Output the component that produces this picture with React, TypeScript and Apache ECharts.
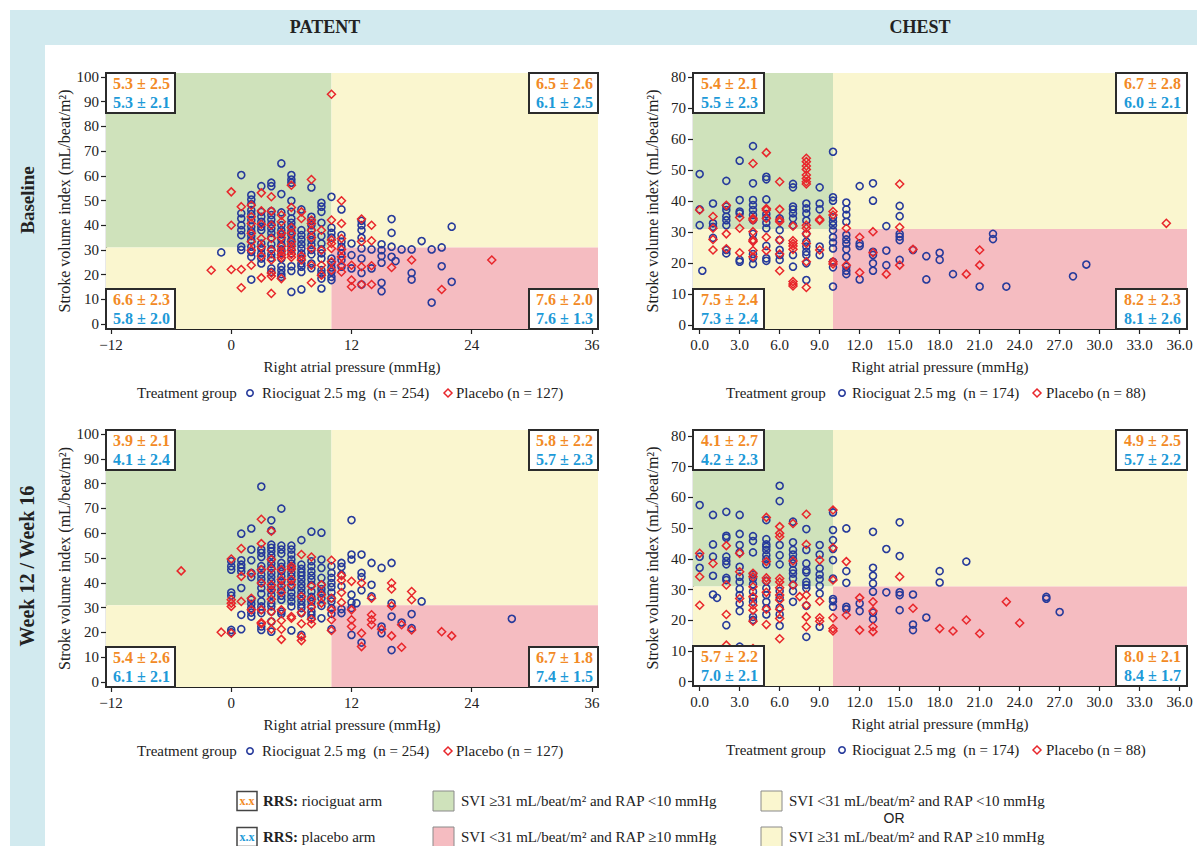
import React, { useEffect, useRef } from "react";
import * as echarts from "echarts";

// ---------------- data ----------------
const columnTitles = ["PATENT", "CHEST"];
const rowTitles = ["Baseline", "Week 12 / Week 16"];
const xAxisTitle = "Right atrial pressure (mmHg)";
const yAxisTitle = "Stroke volume index (mL/beat/m²)";
const SVI_CUT = 31;
const RAP_CUT = 10;

const patentXTicks = [-12, 0, 12, 24, 36];
const chestXTicks = [0, 3, 6, 9, 12, 15, 18, 21, 24, 27, 30, 33, 36];
const patentYTicks = [0, 10, 20, 30, 40, 50, 60, 70, 80, 90, 100];
const chestYTicks = [0, 10, 20, 30, 40, 50, 60, 70, 80];

const patentRioLabel = "Riociguat 2.5 mg  (n = 254)";
const patentPlaLabel = "Placebo (n = 127)";
const chestRioLabel = "Riociguat 2.5 mg  (n = 174)";
const chestPlaLabel = "Placebo (n = 88)";

// RRS boxes: [top-left, top-right, bottom-left, bottom-right], each [riociguat arm, placebo arm]
const rrsPatentBaseline = [["5.3 ± 2.5", "5.3 ± 2.1"], ["6.5 ± 2.6", "6.1 ± 2.5"], ["6.6 ± 2.3", "5.8 ± 2.0"], ["7.6 ± 2.0", "7.6 ± 1.3"]];
const rrsChestBaseline = [["5.4 ± 2.1", "5.5 ± 2.3"], ["6.7 ± 2.8", "6.0 ± 2.1"], ["7.5 ± 2.4", "7.3 ± 2.4"], ["8.2 ± 2.3", "8.1 ± 2.6"]];
const rrsPatentWeek = [["3.9 ± 2.1", "4.1 ± 2.4"], ["5.8 ± 2.2", "5.7 ± 2.3"], ["5.4 ± 2.6", "6.1 ± 2.1"], ["6.7 ± 1.8", "7.4 ± 1.5"]];
const rrsChestWeek = [["4.1 ± 2.7", "4.2 ± 2.3"], ["4.9 ± 2.5", "5.7 ± 2.2"], ["5.7 ± 2.2", "7.0 ± 2.1"], ["8.0 ± 2.1", "8.4 ± 1.7"]];

const patentBaselineRio = [
  [-1, 29],
  [1, 60.3], [1, 44.8], [1, 42.7], [1, 40], [1, 38], [1, 36], [1, 31.3], [1, 30],
  [2, 52.2], [2, 50.4], [2, 48.5], [2, 46.1], [2, 44.5], [2, 42.1], [2, 39.4], [2, 37.6], [2, 35.6], [2, 34], [2, 31.3], [2, 29.2], [2, 27.2], [2, 18],
  [3, 55.8], [3, 45.4], [3, 43.4], [3, 41.4], [3, 39.4], [3, 38], [3, 32.6], [3, 30.6], [3, 28.6], [3, 26.5], [3, 24.5],
  [4, 57.2], [4, 55.8], [4, 45.7], [4, 44.1], [4, 42.3], [4, 40.4], [4, 38.7], [4, 36.9], [4, 35], [4, 32.3], [4, 30.3], [4, 28.3], [4, 26.8], [4, 22.5], [4, 21.1],
  [5, 65], [5, 52.6], [5, 45.2], [5, 40], [5, 38], [5, 36.3], [5, 34.2], [5, 32.2], [5, 30.2], [5, 28.6], [5, 26.5], [5, 23.4], [5, 21.8], [5, 20.2], [5, 19.1],
  [6, 60.3], [6, 58.5], [6, 57.2], [6, 49.9], [6, 45.4], [6, 42.7], [6, 41], [6, 39.4], [6, 37.6], [6, 36], [6, 34], [6, 32.3], [6, 30.3], [6, 28.6], [6, 23.4], [6, 21.5], [6, 13],
  [7, 46.4], [7, 38], [7, 36], [7, 34.2], [7, 32.3], [7, 30.6], [7, 28.6], [7, 26.5], [7, 24.5], [7, 23.2], [7, 21.1], [7, 14],
  [8, 55.3], [8, 43.4], [8, 41.8], [8, 40], [8, 38], [8, 36], [8, 34], [8, 32], [8, 30], [8, 28.2], [8, 24.5], [8, 22.6],
  [9, 49.1], [9, 47.5], [9, 45.4], [9, 41], [9, 35.6], [9, 32.6], [9, 30.2], [9, 28.6], [9, 26.5], [9, 21.8], [9, 20.5], [9, 18.4], [9, 14.4],
  [10, 51.5], [10, 39], [10, 36.9], [10, 35], [10, 26.5], [10, 24.8], [10, 22.9], [10, 21.1], [10, 19.1], [10, 17.8],
  [11, 46.4], [11, 36], [11, 33.3], [11, 31.3], [11, 28.6], [11, 25.9], [11, 23.2],
  [12, 32.6], [12, 27.9], [12, 22.5],
  [13, 41.8], [13, 40], [13, 38], [13, 34.9], [13, 30.6], [13, 26.5], [13, 20.7], [13, 16],
  [14, 30.2], [14, 22.5],
  [15, 32.3], [15, 29.9], [15, 27.5], [15, 24.8], [15, 16.7], [15, 13.3],
  [16, 42.5], [16, 36.9], [16, 31.3], [16, 27.2], [16.4, 25.5],
  [17, 30.2], [18, 30.2], [18, 20.7], [18, 18], [19, 33.6], [20, 30.2], [20, 8.7],
  [21, 31], [21, 23.4], [22, 39.4], [22, 17.1],
];
const patentBaselinePla = [
  [-2, 21.8], [0, 53.5], [0, 40], [0, 22.1], [1, 47.5], [1, 22.1], [1, 14.7],
  [2, 48.1], [2, 43.4], [2, 40.7], [2, 36.7], [2, 33.3], [2, 29.9], [2, 23.8],
  [3, 53.1], [3, 45.8], [3, 40.4], [3, 34.6], [3, 31.3], [3, 27.5], [3, 18.7],
  [4, 51.5], [4, 45.7], [4, 40], [4, 34.6], [4, 29.9], [4, 25.9], [4, 20.7], [4, 19.4], [4, 12.4],
  [5, 44.1], [5, 41.4], [5, 36.9], [5, 35], [5, 31.5], [5, 29.5], [5, 27.9], [5, 26.8], [5, 18.4],
  [6, 56.2], [6, 47.2], [6, 39.1], [6, 36.7], [6, 33.3], [6, 31.5], [6, 29.9], [6, 28.2], [6, 27],
  [7, 45.4], [7, 42.7], [7, 27.5], [7, 25.9],
  [8, 58.5], [8, 42.1], [8, 40.7], [8, 38], [8, 35], [8, 30.6], [8, 23.8], [8, 16.7],
  [9, 38], [9, 29.9], [9, 23.8], [9, 19.8],
  [10, 93], [10, 42.1], [10, 34], [10, 32.6], [10, 30.6], [10, 25.2], [10, 21.8],
  [11, 49.9], [11, 40.7], [11, 34.6], [11, 30.2], [11, 27.2], [11, 23.8], [11, 21.1],
  [12, 23.8], [12, 17.8], [12, 15.1],
  [13, 42.5], [13, 33.4], [13, 23.2], [13, 16],
  [14, 40], [14, 33.7], [14, 23.6], [14, 16],
  [16, 22.9], [18, 25.9], [21, 14], [26, 25.9],
];
const chestBaselineRio = [
  [0, 48.7], [0, 37.3], [0, 32.2], [0.2, 17.5],
  [1, 39.2], [1, 32.8], [1, 31.7], [1, 28.1],
  [2, 46.5], [2, 38.2], [2, 37.1], [2, 35], [2, 33.8], [2, 32.2], [2, 24.2], [2, 23.1],
  [3, 53], [3, 40.3], [3, 36.6], [3, 36], [3, 21], [3, 20.4],
  [4, 57.7], [4, 45.7], [4, 40.3], [4, 38.7], [4, 37.1], [4, 35.5], [4, 33.9], [4, 29.4], [4, 27.4], [4, 22.9], [4, 21.5], [4, 19.7],
  [5, 47.8], [5, 47], [5, 40.5], [5, 35.8], [5, 34.6], [5, 33], [5, 31.2], [5, 25.5], [5, 21.5], [5, 20.7],
  [6, 34.4], [6, 30.6], [6, 27.4], [6, 24.2], [6, 22.6], [6, 21],
  [7, 45.5], [7, 44.4], [7, 38.2], [7, 37.3], [7, 36], [7, 34.4], [7, 32.2], [7, 22.6], [7, 18.8],
  [8, 39.2], [8, 37.6], [8, 36], [8, 33.7], [8, 29.4], [8, 26.9], [8, 25.3], [8, 23.6], [8, 22.6], [8, 19.9], [8, 14.5],
  [9, 44.4], [9, 39.2], [9, 37.3], [9, 25.3], [9, 22.6],
  [10, 55.9], [10, 41.2], [10, 40.1], [10, 34.7], [10, 33.3], [10, 32.2], [10, 30.6], [10, 28.3], [10, 26.6], [10, 24.7], [10, 20.4], [10, 18.6], [10, 12.4],
  [11, 39.5], [11, 37.3], [11, 35.5], [11, 33.3], [11, 29], [11, 27.6], [11, 26.3], [11, 24.4], [11, 22], [11, 18.8], [11, 17.5], [11, 16.4],
  [12, 44.8], [12, 26.3], [12, 25.5], [12, 14.7],
  [13, 45.7], [13, 40.1], [13, 23.6], [13, 22.6], [13, 19.9], [13, 17.5],
  [14, 31.9], [14, 24], [14, 19.3],
  [15, 38.4], [15, 35.1], [15, 29.4], [15, 28.5], [15, 27.4], [15, 21],
  [16, 24.2], [17, 22.2], [17, 14.7], [18, 23.3], [18, 21], [19, 16.4], [21, 12.4],
  [22, 29.4], [22, 27.7], [23, 12.4], [28, 15.7], [29, 19.5],
];
const chestBaselinePla = [
  [0, 37.1], [1, 35], [1, 31.2], [1, 27.6], [1, 24.2],
  [2, 38.6], [2, 29.4], [2, 24.6],
  [3, 34.7], [3, 31.2], [3, 23.3],
  [4, 52.1], [4, 34.4], [4, 33.9], [4, 30.1], [4, 27.4], [4, 26.9], [4, 24], [4, 22],
  [5, 55.6], [5, 37.6], [5, 37.1], [5, 34.4], [5, 28.3], [5, 24],
  [6, 46.2], [6, 37.3], [6, 33.9], [6, 33.3], [6, 27.4], [6, 22.9], [6, 17.5],
  [7, 31.9], [7, 27.2], [7, 26.3], [7, 25.5], [7, 24.4], [7, 14], [7, 13.2], [7, 12.6],
  [8, 53.8], [8, 52.7], [8, 51.3], [8, 50.2], [8, 48.4], [8, 47.3], [8, 46.2], [8, 45.5], [8, 32.2], [8, 31.2], [8, 29.4], [8, 26.3], [8, 20.4], [8, 12.1],
  [9, 34.1], [9, 33.7], [9, 24.2],
  [10, 36.6], [10, 35.5], [10, 20.4], [10, 19.7],
  [11, 31.2], [11, 19.3], [12, 28.3], [12, 16.9], [13, 30.1], [13, 23.3], [14, 16.4],
  [15, 45.5], [15, 31.5], [15, 19.3],
  [16, 24.4], [20, 16.4], [21, 24.2], [21, 19.3], [35, 32.8],
];
const patentWeekRio = [
  [0, 48.7], [0, 46.7], [0, 45.3], [0, 36.1], [0, 34.8], [0, 21], [0, 20.1],
  [1, 59.8], [1, 49.1], [1, 47.3], [1, 46], [1, 44.6], [1, 37.9], [1, 27.1], [1, 21.3],
  [2, 61.9], [2, 53.4], [2, 49.1], [2, 44], [2, 42.3], [2, 33.2], [2, 31.5], [2, 29.8], [2, 28], [2, 26.4],
  [3, 78.8], [3, 53.4], [3, 52.1], [3, 50.4], [3, 46.7], [3, 45.3], [3, 43.3], [3, 41.5], [3, 39.9], [3, 37.9], [3, 35.6], [3, 32.5], [3, 30.5], [3, 29.1], [3, 27.8], [3, 22.4], [3, 21],
  [4, 65.2], [4, 61.1], [4, 55.4], [4, 54.1], [4, 52.7], [4, 51], [4, 49.4], [4, 47.7], [4, 46], [4, 44], [4, 42.3], [4, 40.6], [4, 38.6], [4, 37], [4, 35.2], [4, 31.8], [4, 30.5], [4, 28.4], [4, 24.4], [4, 20.3],
  [5, 69.9], [5, 55], [5, 53.4], [5, 51.8], [5, 48], [5, 46.4], [5, 44.6], [5, 42.6], [5, 40.6], [5, 38.8], [5, 37], [5, 34.8], [5, 33.2], [5, 28.4], [5, 27.5],
  [6, 55], [6, 53.4], [6, 51.4], [6, 49.4], [6, 47.7], [6, 46], [6, 44.2], [6, 42.6], [6, 40.6], [6, 38.3], [6, 36.1], [6, 34.3], [6, 32.5], [6, 30.5], [6, 20.8],
  [7, 57.2], [7, 47.3], [7, 45.6], [7, 44.2], [7, 42.9], [7, 41.3], [7, 39.5], [7, 37.9], [7, 36.1], [7, 34.5], [7, 32.8], [7, 31.1], [7, 29.8], [7, 27.8], [7, 19],
  [8, 60.6], [8, 48.7], [8, 46.7], [8, 44.6], [8, 42.9], [8, 41.3], [8, 39.2], [8, 36.5], [8, 34.3], [8, 32.5], [8, 30.5], [8, 28.4], [8, 27.1], [8, 25.7],
  [9, 60.2], [9, 49.4], [9, 46], [9, 42], [9, 39.2], [9, 37.5], [9, 35.9], [9, 33.8], [9, 30.7], [9, 25.7],
  [10, 46.7], [10, 44], [10, 42], [10, 39.9], [10, 38.3], [10, 36.1], [10, 33.8], [10, 32.5], [10, 29.8], [10, 27.5], [10, 21.3],
  [11, 48], [11, 46.4], [11, 43.3], [11, 38.6], [11, 29.4], [11, 27.8],
  [12, 65.3], [12, 51.4], [12, 49.4], [12, 35.2], [12, 32.1], [12, 29.8], [12, 19], [12.5, 31.8],
  [13, 51.4], [13, 44], [13, 42.3], [13, 37], [13, 15.9],
  [14, 48], [14, 39.2], [14, 34.5],
  [15, 46], [15, 22.4], [15, 19.7],
  [16, 48], [16, 31.8], [16, 26.4], [16, 12.9],
  [17, 24], [18, 27.4], [18, 21.7], [19, 32.5], [28, 25.5],
];
const patentWeekPla = [
  [-5, 44.8], [-1, 20.1],
  [0, 49.6], [0, 33.2], [0, 31.8], [0, 30.5], [0, 19.7],
  [1, 53.8], [1, 42.6], [1, 32.5],
  [2, 43.7], [2, 33.8], [2, 29.1],
  [3, 65.6], [3, 55.8], [3, 45.3], [3, 39.9], [3, 29.1], [3, 24], [3, 23.5],
  [4, 60.8], [4, 49.4], [4, 45.6], [4, 39.2], [4, 37.2], [4, 33.4], [4, 28.4], [4, 24.4], [4, 21.3],
  [5, 45.3], [5, 41.3], [5, 38.8], [5, 36.1], [5, 29.1], [5, 24.8], [5, 21.3], [5, 17.2],
  [6, 46.7], [6, 45.6], [6, 41.3], [6, 39.2], [6, 26.4], [6, 25.7],
  [7, 51.4], [7, 34.5], [7, 28], [7, 23.5], [7, 18.3], [7, 16.7],
  [8, 50.4], [8, 38.6], [8, 33.4], [8, 30.2], [8, 25.3], [8, 23.5],
  [9, 39.2], [9, 35.2], [9, 31.8],
  [10, 49.1], [10, 33.8], [10, 29.1], [10, 25.1], [10, 20.8],
  [11, 42.9], [11, 41], [11, 36.1], [11, 32.1],
  [12, 40.6], [12, 29.1], [12, 25.1], [12, 22.4],
  [13, 39.9], [13, 19.7], [13, 14.3],
  [14, 33.8], [14, 27.1], [14, 25.1], [14, 23.1],
  [15, 21.3],
  [16, 39.9], [16, 37.5], [16, 30.7], [16, 18.6],
  [17, 23.1], [17, 14],
  [18, 36.5], [18, 33.2], [18, 21],
  [21, 20.3], [22, 18.6],
];
const chestWeekRio = [
  [0, 57.5], [0, 40.7], [0, 37.1],
  [1, 54.3], [1, 44.7], [1, 40.7], [1, 34.5], [1, 28.4], [1.3, 27.3],
  [2, 55.3], [2, 47.5], [2, 46.9], [2, 40.7], [2, 39.3], [2, 38.2], [2, 33.8], [2, 33.1], [2, 18.4],
  [3, 54.3], [3, 48.1], [3, 44.5], [3, 42.1], [3, 37.4], [3, 34.2], [3, 32.5], [3, 30.2], [3, 28.2], [3, 25.5], [3, 23], [3, 11.4],
  [4, 47.4], [4, 45.8], [4, 42.1], [4, 34.9], [4, 33.6], [4, 31.7], [4, 29.3], [4, 27.3], [4, 26], [4, 21.1], [4, 20.1],
  [5, 52.6], [5, 46.4], [5, 44.7], [5, 43.9], [5, 42.9], [5, 41.2], [5, 39.9], [5, 38.2], [5, 32.8], [5, 30.4], [5, 28.2], [5, 26], [5, 23.9], [5, 21.9],
  [6, 63.8], [6, 58.8], [6, 44.5], [6, 41.2], [6, 38.2], [6, 29.5], [6, 27.3], [6, 24.1], [6, 21.9], [6, 18.2],
  [7, 52.1], [7, 45.4], [7, 42.9], [7, 41.4], [7, 39.9], [7, 38.5], [7, 36.3], [7, 35.2], [7, 33.6], [7, 31.5], [7, 29.5], [7, 26],
  [8, 49.7], [8, 42.9], [8, 38.5], [8, 36.3], [8, 35.6], [8, 32.5], [8, 31.5], [8, 30.4], [8, 24.7], [8, 14.6],
  [9, 44.5], [9, 41.4], [9, 36.9], [9, 34.9], [9, 33.4], [9, 31.2], [9, 28.7], [9, 17.9],
  [10, 55.1], [10, 49.4], [10, 46.1], [10, 43.2], [10, 39.6], [10, 33.6], [10, 26.9], [10, 26.2], [10, 24.4],
  [11, 49.9], [11, 36], [11, 32.2], [11, 24.4], [11, 23.6],
  [12, 25.5], [12, 23],
  [13, 48.8], [13, 37.1], [13, 34.5], [13, 32], [13, 29.3], [13, 22.5], [13, 20.4],
  [14, 43.2], [14, 29.1],
  [15, 51.9], [15, 40.9], [15, 29.1], [15, 28.2], [15, 23.3],
  [16, 28.4], [16, 18.6], [16, 16.8], [17, 20.9], [18, 36], [18, 32.3], [20, 39.1],
  [26, 27.6], [26, 27], [27, 22.7],
];
const chestWeekPla = [
  [0, 41.8], [0, 34.2], [0, 24.9], [1, 38.5],
  [2, 44.3], [2, 31.5], [2, 21.9], [2, 11.9],
  [3, 41.8], [3, 35.8], [3, 27.1],
  [4, 35.3], [4, 34.2], [4, 30.9], [4, 27.7], [4, 24.9], [4, 23.3], [4, 19.7], [4, 10.8],
  [5, 53.5], [5, 39.1], [5, 33.8], [5, 32.8], [5, 29.1], [5, 23.6], [5, 18.6],
  [6, 50.5], [6, 48.3], [6, 47.2], [6, 33.6], [6, 32.5], [6, 30.6], [6, 28.2], [6, 26.6], [6, 23.6], [6, 20.6], [6, 14],
  [7, 51.5], [7, 39.3], [7, 31.5], [7.5, 27.7],
  [8, 54.5], [8, 44.7], [8, 28.2], [8, 24.9], [8, 21.1], [8, 17.9],
  [9, 39.6], [9, 26.2], [9, 20.8], [9, 19.7],
  [10, 55.9], [10, 43.6], [10, 33.1], [10, 20.8], [10, 17.3], [10, 16.5],
  [11, 39.1], [11, 21.7], [12, 27.3], [12, 16.8],
  [13, 26], [13, 23], [13, 17.9], [13, 16.3],
  [15, 34.2], [16, 23.9], [18, 17.3], [19, 16.5], [20, 20.1], [21, 15.7], [23, 26], [24, 19.1],
];

// ---------------- styles ----------------
const SERIF = "'Liberation Serif', 'Times New Roman', serif";
const SANS = "'Liberation Sans', Arial, sans-serif";
const GREEN = "#cfe2bb";
const YELLOW = "#faf6cf";
const PINK = "#f5bcc1";
const BAND = "#d2eaef";
const BLUE_PT = "#263a9b";
const RED_PT = "#e8262b";
const ORANGE_TXT = "#f28a25";
const BLUE_TXT = "#1d9ad8";
const INK = "#222";

const panels = [
  { grid: { left: 106, top: 73, width: 492, height: 256 }, xMin: -12.5, xMax: 36.6, yMin: -2, yMax: 101.6, xTicks: patentXTicks, yTicks: patentYTicks, dec: 0, rio: patentBaselineRio, pla: patentBaselinePla, rrs: rrsPatentBaseline, rioLabel: patentRioLabel, plaLabel: patentPlaLabel, boxW: 69, leg: [137, 250, 262, 448, 456] },
  { grid: { left: 693, top: 73, width: 494, height: 256 }, xMin: -0.5, xMax: 36.55, yMin: -1.3, yMax: 81.3, xTicks: chestXTicks, yTicks: chestYTicks, dec: 1, rio: chestBaselineRio, pla: chestBaselinePla, rrs: rrsChestBaseline, rioLabel: chestRioLabel, plaLabel: chestPlaLabel, boxW: 71, leg: [726, 842, 852, 1037, 1046] },
  { grid: { left: 106, top: 430, width: 492, height: 257 }, xMin: -12.5, xMax: 36.6, yMin: -2, yMax: 101.6, xTicks: patentXTicks, yTicks: patentYTicks, dec: 0, rio: patentWeekRio, pla: patentWeekPla, rrs: rrsPatentWeek, rioLabel: patentRioLabel, plaLabel: patentPlaLabel, boxW: 69, leg: [137, 250, 262, 448, 456] },
  { grid: { left: 693, top: 430, width: 494, height: 256 }, xMin: -0.5, xMax: 36.55, yMin: -1.4, yMax: 81.95, xTicks: chestXTicks, yTicks: chestYTicks, dec: 1, rio: chestWeekRio, pla: chestWeekPla, rrs: rrsChestWeek, rioLabel: chestRioLabel, plaLabel: chestPlaLabel, boxW: 71, leg: [726, 842, 852, 1037, 1046] },
];

function txt(x: number, y: number, text: string, opts: any = {}) {
  const align = opts.align || "left";
  const valign = opts.valign || "middle";
  return {
    type: "text",
    x,
    y,
    z: 100,
    rotation: opts.rotation || 0,
    silent: true,
    style: {
      text,
      fill: opts.fill || INK,
      fontSize: opts.size || 15,
      fontFamily: opts.family || SERIF,
      fontWeight: opts.weight || "normal",
      align,
      verticalAlign: valign,
      textAlign: align,
      textVerticalAlign: valign,
      rich: opts.rich,
    },
  };
}

function buildOption() {
  const grid: any[] = [];
  const xAxis: any[] = [];
  const yAxis: any[] = [];
  const series: any[] = [];
  const graphic: any[] = [];

  // background bands
  graphic.push({ type: "rect", z: 0, silent: true, shape: { x: 10, y: 10, width: 1187, height: 35 }, style: { fill: BAND } });
  graphic.push({ type: "rect", z: 0, silent: true, shape: { x: 10, y: 10, width: 35, height: 836 }, style: { fill: BAND } });
  graphic.push(txt(325, 27, columnTitles[0], { align: "center", size: 18, weight: "bold" }));
  graphic.push(txt(920, 27, columnTitles[1], { align: "center", size: 18, weight: "bold" }));
  graphic.push(txt(27, 200, rowTitles[0], { align: "center", size: 19, weight: "bold", rotation: Math.PI / 2 }));
  graphic.push(txt(27, 566, rowTitles[1], { align: "center", size: 20, weight: "bold", rotation: Math.PI / 2 }));

  panels.forEach((p, i) => {
    const g = p.grid;
    grid.push({ left: g.left, top: g.top, width: g.width, height: g.height, containLabel: false });
    const axisLine = { show: true, onZero: false, lineStyle: { color: INK, width: 1.2 } };
    xAxis.push({
      gridIndex: i, type: "value", min: p.xMin, max: p.xMax,
      axisLine,
      axisTick: { show: true, customValues: p.xTicks, length: 5, lineStyle: { color: INK, width: 1.2 } },
      axisLabel: {
        customValues: p.xTicks, margin: 8, fontSize: 15, fontFamily: SERIF, color: INK,
        formatter: (v: number) => (v < 0 ? "\u2212" + Math.abs(v).toFixed(p.dec) : v.toFixed(p.dec)),
      },
      splitLine: { show: false },
      name: xAxisTitle, nameLocation: "middle", nameGap: 30,
      nameTextStyle: { fontSize: 15, fontFamily: SERIF, color: INK },
    });
    yAxis.push({
      gridIndex: i, type: "value", min: p.yMin, max: p.yMax,
      axisLine,
      axisTick: { show: true, customValues: p.yTicks, length: 5, lineStyle: { color: INK, width: 1.2 } },
      axisLabel: { customValues: p.yTicks, margin: 7, fontSize: 15, fontFamily: SERIF, color: INK },
      splitLine: { show: false },
      name: yAxisTitle, nameLocation: "middle", nameGap: 33,
      nameTextStyle: { fontSize: 16, fontFamily: SERIF, color: INK },
    });
    series.push({
      type: "scatter", xAxisIndex: i, yAxisIndex: i, data: [], silent: true, z: 1,
      markArea: {
        silent: true,
        data: [
          [{ xAxis: p.xMin, yAxis: SVI_CUT, itemStyle: { color: GREEN, opacity: 1, borderWidth: 0 } }, { xAxis: RAP_CUT, yAxis: p.yMax }],
          [{ xAxis: p.xMin, yAxis: p.yMin, itemStyle: { color: YELLOW, opacity: 1, borderWidth: 0 } }, { xAxis: RAP_CUT, yAxis: SVI_CUT }],
          [{ xAxis: RAP_CUT, yAxis: SVI_CUT, itemStyle: { color: YELLOW, opacity: 1, borderWidth: 0 } }, { xAxis: p.xMax, yAxis: p.yMax }],
          [{ xAxis: RAP_CUT, yAxis: p.yMin, itemStyle: { color: PINK, opacity: 1, borderWidth: 0 } }, { xAxis: p.xMax, yAxis: SVI_CUT }],
        ],
      },
    });
    series.push({
      type: "scatter", name: p.rioLabel, xAxisIndex: i, yAxisIndex: i, data: p.rio, z: 3, silent: true,
      symbol: "circle", symbolSize: 7,
      itemStyle: { color: "rgba(0,0,0,0)", borderColor: BLUE_PT, borderWidth: 1.6, opacity: 1 },
    });
    series.push({
      type: "scatter", name: p.plaLabel, xAxisIndex: i, yAxisIndex: i, data: p.pla, z: 4, silent: true,
      symbol: "diamond", symbolSize: 8,
      itemStyle: { color: "rgba(0,0,0,0)", borderColor: RED_PT, borderWidth: 1.5, opacity: 1 },
    });

    // RRS boxes
    const bh = 40;
    const right = g.left + g.width - p.boxW;
    const bottom = g.top + g.height - bh;
    const corners = [[g.left, g.top], [right, g.top], [g.left, bottom], [right, bottom]];
    corners.forEach(([bx, by], k) => {
      graphic.push({ type: "rect", z: 90, silent: true, shape: { x: bx, y: by, width: p.boxW, height: bh }, style: { fill: "#fff", stroke: "#2b2b2b", lineWidth: 2 } });
      graphic.push(txt(bx + p.boxW / 2 + 1, by + 10.5, p.rrs[k][0], { align: "center", size: 16, weight: "bold", fill: ORANGE_TXT }));
      graphic.push(txt(bx + p.boxW / 2 + 1, by + 29.5, p.rrs[k][1], { align: "center", size: 16, weight: "bold", fill: BLUE_TXT }));
    });

    // panel legend
    const ly = g.top + g.height + 64;
    const [tx, cx, rx, dx, px] = p.leg;
    graphic.push(txt(tx, ly, "Treatment group"));
    graphic.push({ type: "circle", z: 100, silent: true, shape: { cx, cy: ly, r: 3.2 }, style: { fill: "none", stroke: BLUE_PT, lineWidth: 1.6 } });
    graphic.push(txt(rx, ly, p.rioLabel));
    graphic.push({ type: "polygon", z: 100, silent: true, shape: { points: [[dx, ly - 4], [dx + 4, ly], [dx, ly + 4], [dx - 4, ly]] }, style: { fill: "none", stroke: RED_PT, lineWidth: 1.5 } });
    graphic.push(txt(px, ly, p.plaLabel));
  });

  // bottom legend
  const rows = [
    { y: 801, color: ORANGE_TXT, rrs: "{b|RRS:} riociguat arm", sq1: GREEN, t1: "SVI ≥31 mL/beat/m² and RAP <10 mmHg", sq2: YELLOW, t2: "SVI <31 mL/beat/m² and RAP <10 mmHg" },
    { y: 837, color: BLUE_TXT, rrs: "{b|RRS:} placebo arm", sq1: PINK, t1: "SVI <31 mL/beat/m² and RAP ≥10 mmHg", sq2: YELLOW, t2: "SVI ≥31 mL/beat/m² and RAP ≥10 mmHg" },
  ];
  rows.forEach((r) => {
    graphic.push({ type: "rect", z: 100, silent: true, shape: { x: 237, y: r.y - 9.5, width: 20, height: 19 }, style: { fill: "#fff", stroke: "#444", lineWidth: 1.5 } });
    graphic.push(txt(247, r.y, "x.x", { align: "center", size: 12, weight: "bold", fill: r.color }));
    graphic.push(txt(263, r.y, r.rrs, { rich: { b: { fontWeight: "bold", fontSize: 15, fontFamily: SERIF, fill: INK } } }));
    graphic.push({ type: "rect", z: 100, silent: true, shape: { x: 433, y: r.y - 10, width: 21, height: 20 }, style: { fill: r.sq1, stroke: "#8a8a8a", lineWidth: 1 } });
    graphic.push(txt(461, r.y, r.t1));
    graphic.push({ type: "rect", z: 100, silent: true, shape: { x: 761, y: r.y - 10, width: 21, height: 20 }, style: { fill: r.sq2, stroke: "#8a8a8a", lineWidth: 1 } });
    graphic.push(txt(789, r.y, r.t2));
  });
  graphic.push(txt(894, 818, "OR", { align: "center", size: 14, family: SANS }));

  return {
    animation: false,
    backgroundColor: "#fff",
    grid, xAxis, yAxis, series, graphic,
  };
}

export default function App() {
  const ref = useRef<HTMLDivElement>(null);
  useEffect(() => {
    if (!ref.current) return;
    const chart = echarts.init(ref.current, undefined, { renderer: "svg" });
    chart.setOption(buildOption() as any);
    return () => chart.dispose();
  }, []);
  return (
    <div
      ref={ref}
      style={{ position: "fixed", left: 0, top: 0, width: 1197, height: 846, background: "#fff" }}
    />
  );
}
